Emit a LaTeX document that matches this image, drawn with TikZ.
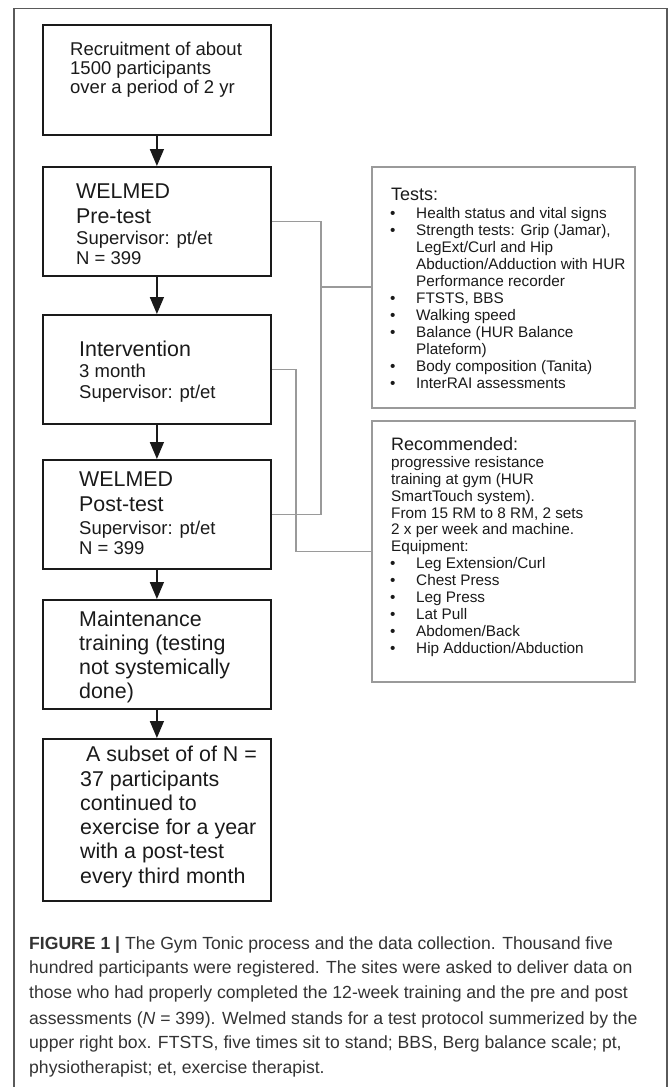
\documentclass[tikz,border=0pt]{standalone}
\usepackage{fontspec}
\setmainfont{Liberation Sans}
\usetikzlibrary{arrows.meta}
\definecolor{framegray}{HTML}{5A5A5A}
\definecolor{linegray}{HTML}{9A9A9A}
\definecolor{inkblack}{HTML}{1A1A1A}
\definecolor{captext}{HTML}{333333}
\begin{document}
\begin{tikzpicture}[x=1bp,y=-1bp,
  flowbox/.style={draw=inkblack, line width=1.8bp, minimum width=228bp, inner sep=0, anchor=north west},
  sidebox/.style={draw=linegray, line width=1.9bp, minimum width=263bp, inner sep=0, anchor=north west},
  flowarrow/.style={draw=inkblack, line width=1.5bp, -{Triangle[width=14bp,length=17bp]}},
  conn/.style={draw=linegray, line width=1.8bp},
  txt/.style={anchor=base west, inner sep=0, text=inkblack},
  bigtxt/.style={txt, font=\fontsize{21.4bp}{24bp}\selectfont},
  midtxt/.style={txt, font=\fontsize{18.5bp}{21bp}\selectfont},
  headtxt/.style={txt, font=\fontsize{18bp}{21bp}\selectfont},
  smalltxt/.style={txt, font=\fontsize{15.3bp}{17bp}\selectfont},
  captxt/.style={anchor=base west, inner sep=0, text=captext, font=\fontsize{17.6bp}{24bp}\selectfont}
]
\useasboundingbox (0,0) rectangle (669,1087);
% outer frame
\draw[framegray, line width=1.6bp] (14,1095) -- (14,8.5) -- (667,8.5) -- (667,1095);

% left flow boxes
\node[flowbox, minimum height=110bp] (b1) at (42,24) {};
\node[flowbox, minimum height=109bp] (b2) at (42,166) {};
\node[flowbox, minimum height=109bp] (b3) at (42,314) {};
\node[flowbox, minimum height=109bp] (b4) at (42,459) {};
\node[flowbox, minimum height=109bp] (b5) at (42,599) {};
\node[flowbox, minimum height=162bp] (b6) at (42,738) {};

% right boxes
\node[sidebox, minimum height=241bp] (tests) at (371,165.7) {};
\node[sidebox, minimum height=261bp] (rec) at (371,420) {};

% arrows
\draw[flowarrow] (b1.south) -- (b2.north);
\draw[flowarrow] (b2.south) -- (b3.north);
\draw[flowarrow] (b3.south) -- (b4.north);
\draw[flowarrow] (b4.south) -- (b5.north);
\draw[flowarrow] (b5.south) -- (b6.north);

% gray connectors
\coordinate (j1) at (321,0);
\coordinate (j2) at (296,0);
\draw[conn] (b2.east) -- (b2.east -| j1) -- (b4.east -| j1) -- (b4.east);
\draw[conn] (tests.west) -- (tests.west -| j1);
\draw[conn] (b3.east) -- (b3.east -| j2) -- (rec.west -| j2) -- (rec.west);

% box 1 text
\node[midtxt] (t1a) at (70,55) {Recruitment of about};
\node[midtxt] (t1b) at (70,74) {1500 participants};
\node[midtxt] (t1c) at (70,93) {over a period of 2 yr};
% box 2 text
\node[bigtxt] (t2a) at (76,198.3) {WELMED};
\node[bigtxt] (t2b) at (76,223.3) {Pre-test};
\node[midtxt] (t2c) at (76,244) {Supervisor: pt/et};
\node[midtxt] (t2d) at (76,264.3) {N = 399};
% box 3 text
\node[bigtxt] (t3a) at (79,356) {Intervention};
\node[midtxt] (t3b) at (79,377) {3 month};
\node[midtxt] (t3c) at (79,398.3) {Supervisor: pt/et};
% box 4 text
\node[bigtxt] (t4a) at (79,486.7) {WELMED};
\node[bigtxt] (t4b) at (79,511) {Post-test};
\node[midtxt] (t4c) at (79,534) {Supervisor: pt/et};
\node[midtxt] (t4d) at (79,554) {N = 399};
% box 5 text
\node[bigtxt] (t5a) at (79,626.7) {Maintenance};
\node[bigtxt] (t5b) at (79,650.5) {training (testing};
\node[bigtxt] (t5c) at (79,674.3) {not systemically};
\node[bigtxt] (t5d) at (79,698) {done)};
% box 6 text
\node[bigtxt] (t6a) at (80,761.5) {\ A subset of of N =};
\node[bigtxt] (t6b) at (80,786) {37 participants};
\node[bigtxt] (t6c) at (80,810.3) {continued to};
\node[bigtxt] (t6d) at (80,834.6) {exercise for a year};
\node[bigtxt] (t6e) at (80,858.9) {with a post-test};
\node[bigtxt] (t6f) at (80,883.2) {every third month};

% tests box text
\node[headtxt] (ttitle) at (391,200) {Tests:};
\foreach \yy/\bul/\tt [count=\i] in {
  218.3/1/{Health status and vital signs},
  235.3/1/{Strength tests: Grip (Jamar),},
  252.2/0/{LegExt/Curl and Hip},
  269.2/0/{Abduction/Adduction with HUR},
  286.2/0/{Performance recorder},
  303.2/1/{FTSTS, BBS},
  320.1/1/{Walking speed},
  337.1/1/{Balance (HUR Balance},
  354.1/0/{Plateform)},
  371.0/1/{Body composition (Tanita)},
  388.0/1/{InterRAI assessments}}{
  \node[smalltxt] (tl\i) at (416,\yy) {\tt};
  \ifnum\bul=1 \node[smalltxt] (tb\i) at (390,\yy) {\textbullet}; \fi
}

% recommended box text
\node[headtxt] (rtitle) at (391,450) {Recommended:};
\node[smalltxt] (r1) at (391,467.3) {progressive resistance};
\node[smalltxt] (r2) at (391,484.2) {training at gym (HUR};
\node[smalltxt] (r3) at (391,501.1) {SmartTouch system).};
\node[smalltxt] (r4) at (391,518.0) {From 15 RM to 8 RM, 2 sets};
\node[smalltxt] (r5) at (391,534.9) {2 x per week and machine.};
\node[smalltxt] (r6) at (391,551.8) {Equipment:};
\foreach \yy/\tt [count=\i] in {
  568.7/{Leg Extension/Curl},
  585.6/{Chest Press},
  602.5/{Leg Press},
  619.4/{Lat Pull},
  636.3/{Abdomen/Back},
  653.2/{Hip Adduction/Abduction}}{
  \node[smalltxt] (rl\i) at (416,\yy) {\tt};
  \node[smalltxt] (rb\i) at (390,\yy) {\textbullet};
}

% caption
\node[captxt] (cap1) at (29,949.5) {\textbf{FIGURE 1 |} The Gym Tonic process and the data collection. Thousand five};
\node[captxt] (cap2) at (29,973.8) {hundred participants were registered. The sites were asked to deliver data on};
\node[captxt] (cap3) at (29,998.6) {those who had properly completed the 12-week training and the pre and post};
\node[captxt] (cap4) at (29,1024) {assessments (\textit{N} = 399). Welmed stands for a test protocol summerized by the};
\node[captxt] (cap5) at (29,1048.4) {upper right box. FTSTS, five times sit to stand; BBS, Berg balance scale; pt,};
\node[captxt] (cap6) at (29,1073.3) {physiotherapist; et, exercise therapist.};
\end{tikzpicture}
\end{document}
